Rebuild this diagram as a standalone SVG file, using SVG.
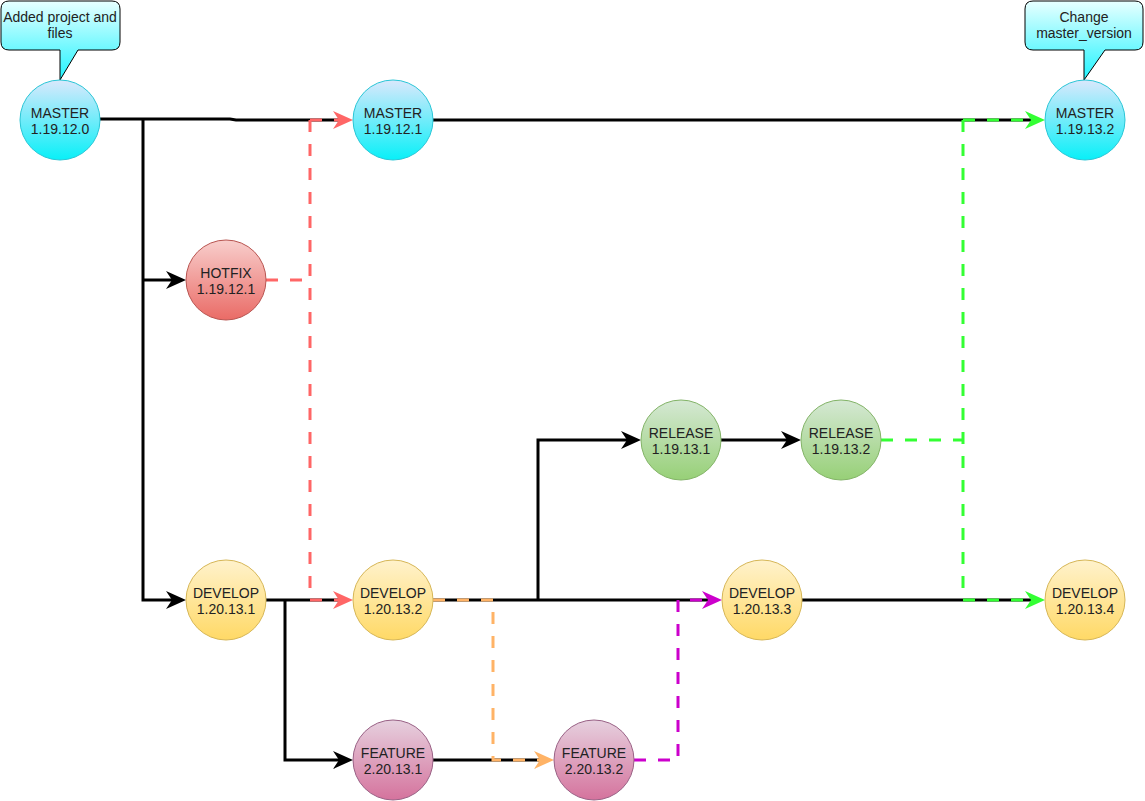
<svg xmlns="http://www.w3.org/2000/svg" width="1145" height="801" viewBox="0 0 1145 801">
<style>
text{font-family:"Liberation Sans",Arial,sans-serif;font-size:14px;fill:#222;text-anchor:middle}
.ln{fill:none;stroke-width:3}
.blk{stroke:#000}
.red{stroke:#ff6666;stroke-dasharray:12 12}
.grn{stroke:#33ff33;stroke-dasharray:12 12}
.org{stroke:#ffb366;stroke-dasharray:12 12}
.pur{stroke:#cc00cc;stroke-dasharray:12 12}
.call{stroke:#000;stroke-width:1;fill:url(#gCall)}
</style>
<defs>
<linearGradient id="gCall" x1="0" y1="0" x2="0" y2="1"><stop offset="0" stop-color="#e8ffff"/><stop offset="1" stop-color="#20f4ff"/></linearGradient>
<linearGradient id="gMaster" x1="0" y1="0" x2="0" y2="1"><stop offset="0" stop-color="#dae8fc"/><stop offset="1" stop-color="#08f0f8"/></linearGradient>
<linearGradient id="gHot" x1="0" y1="0" x2="0" y2="1"><stop offset="0" stop-color="#f8cecc"/><stop offset="1" stop-color="#ea6b66"/></linearGradient>
<linearGradient id="gRel" x1="0" y1="0" x2="0" y2="1"><stop offset="0" stop-color="#d5e8d4"/><stop offset="1" stop-color="#97d077"/></linearGradient>
<linearGradient id="gDev" x1="0" y1="0" x2="0" y2="1"><stop offset="0" stop-color="#fff2cc"/><stop offset="1" stop-color="#ffd966"/></linearGradient>
<linearGradient id="gFeat" x1="0" y1="0" x2="0" y2="1"><stop offset="0" stop-color="#e6d0de"/><stop offset="1" stop-color="#d5739d"/></linearGradient>
<marker id="aBlk" markerUnits="userSpaceOnUse" viewBox="0 0 20 18" refX="8" refY="9" markerWidth="20" markerHeight="18" orient="auto"><path d="M0,0 L20,9 L0,18 L6,9 Z" fill="#000"/></marker>
<marker id="aRed" markerUnits="userSpaceOnUse" viewBox="0 0 20 18" refX="8" refY="9" markerWidth="20" markerHeight="18" orient="auto"><path d="M0,0 L20,9 L0,18 L6,9 Z" fill="#ff6666"/></marker>
<marker id="aGrn" markerUnits="userSpaceOnUse" viewBox="0 0 20 18" refX="8" refY="9" markerWidth="20" markerHeight="18" orient="auto"><path d="M0,0 L20,9 L0,18 L6,9 Z" fill="#33ff33"/></marker>
<marker id="aOrg" markerUnits="userSpaceOnUse" viewBox="0 0 20 18" refX="8" refY="9" markerWidth="20" markerHeight="18" orient="auto"><path d="M0,0 L20,9 L0,18 L6,9 Z" fill="#ffb366"/></marker>
<marker id="aPur" markerUnits="userSpaceOnUse" viewBox="0 0 20 18" refX="8" refY="9" markerWidth="20" markerHeight="18" orient="auto"><path d="M0,0 L20,9 L0,18 L6,9 Z" fill="#cc00cc"/></marker>
</defs>

<g id="connectors">
  <!-- black solid -->
  <path class="ln blk" d="M100,119 L230,119 L236,120 L341,120"/>
  <path class="ln blk" d="M143,120 L143,600 L174,600" marker-end="url(#aBlk)"/>
  <path class="ln blk" d="M143,280 L174,280" marker-end="url(#aBlk)"/>
  <path class="ln blk" d="M433,120 L1033,120"/>
  <path class="ln blk" d="M266,600 L341,600"/>
  <path class="ln blk" d="M285,600 L285,760 L341,760" marker-end="url(#aBlk)"/>
  <path class="ln blk" d="M433,600 L710,600"/>
  <path class="ln blk" d="M538,600 L538,440 L629,440" marker-end="url(#aBlk)"/>
  <path class="ln blk" d="M721,440 L789,440" marker-end="url(#aBlk)"/>
  <path class="ln blk" d="M802,600 L1033,600"/>
  <path class="ln blk" d="M433,760 L542,760"/>
  <!-- hotfix merge -->
  <path class="ln red" d="M266,280 L310,280"/>
  <path class="ln red" d="M310,120 L310,600"/>
  <path class="ln red" d="M310,120 L341,120" marker-end="url(#aRed)"/>
  <path class="ln red" d="M310,600 L341,600" marker-end="url(#aRed)"/>
  <!-- release merge -->
  <path class="ln grn" d="M881,440 L963,440"/>
  <path class="ln grn" d="M963,120 L963,600"/>
  <path class="ln grn" d="M963,120 L1033,120" marker-end="url(#aGrn)"/>
  <path class="ln grn" d="M963,600 L1033,600" marker-end="url(#aGrn)"/>
  <!-- develop to feature -->
  <path class="ln org" d="M433,600 L493,600 L493,760 L542,760" marker-end="url(#aOrg)"/>
  <!-- feature to develop -->
  <path class="ln pur" d="M634,760 L678,760 L678,600 L710,600" marker-end="url(#aPur)"/>
</g>

<g id="callout-added">
  <path class="call" d="M9,1 L112,1 Q120,1 120,9 L120,42 Q120,50 112,50 L78,50 L60,80 L60,50 L9,50 Q1,50 1,42 L1,9 Q1,1 9,1 Z"/>
  <text x="60" y="22">Added project and</text>
  <text x="60" y="38">files</text>
</g>
<g id="callout-change">
  <path class="call" d="M1033,1 L1135,1 Q1143,1 1143,9 L1143,42 Q1143,50 1135,50 L1105,50 L1084,80 L1084,50 L1033,50 Q1025,50 1025,42 L1025,9 Q1025,1 1033,1 Z"/>
  <text x="1084" y="22">Change</text>
  <text x="1084" y="38">master_version</text>
</g>

<g id="master-1.19.12.0"><circle cx="60" cy="120" r="40" fill="url(#gMaster)" stroke="#29c6d6"/><text x="60" y="118">MASTER</text><text x="60" y="134">1.19.12.0</text></g>
<g id="master-1.19.12.1"><circle cx="393" cy="120" r="40" fill="url(#gMaster)" stroke="#29c6d6"/><text x="393" y="118">MASTER</text><text x="393" y="134">1.19.12.1</text></g>
<g id="master-1.19.13.2"><circle cx="1085" cy="120" r="40" fill="url(#gMaster)" stroke="#29c6d6"/><text x="1085" y="118">MASTER</text><text x="1085" y="134">1.19.13.2</text></g>
<g id="hotfix-1.19.12.1"><circle cx="226" cy="280" r="40" fill="url(#gHot)" stroke="#b85450"/><text x="226" y="278">HOTFIX</text><text x="226" y="294">1.19.12.1</text></g>
<g id="release-1.19.13.1"><circle cx="681" cy="440" r="40" fill="url(#gRel)" stroke="#82b366"/><text x="681" y="438">RELEASE</text><text x="681" y="454">1.19.13.1</text></g>
<g id="release-1.19.13.2"><circle cx="841" cy="440" r="40" fill="url(#gRel)" stroke="#82b366"/><text x="841" y="438">RELEASE</text><text x="841" y="454">1.19.13.2</text></g>
<g id="develop-1.20.13.1"><circle cx="226" cy="600" r="40" fill="url(#gDev)" stroke="#d6b656"/><text x="226" y="598">DEVELOP</text><text x="226" y="614">1.20.13.1</text></g>
<g id="develop-1.20.13.2"><circle cx="393" cy="600" r="40" fill="url(#gDev)" stroke="#d6b656"/><text x="393" y="598">DEVELOP</text><text x="393" y="614">1.20.13.2</text></g>
<g id="develop-1.20.13.3"><circle cx="762" cy="600" r="40" fill="url(#gDev)" stroke="#d6b656"/><text x="762" y="598">DEVELOP</text><text x="762" y="614">1.20.13.3</text></g>
<g id="develop-1.20.13.4"><circle cx="1085" cy="600" r="40" fill="url(#gDev)" stroke="#d6b656"/><text x="1085" y="598">DEVELOP</text><text x="1085" y="614">1.20.13.4</text></g>
<g id="feature-2.20.13.1"><circle cx="393" cy="760" r="40" fill="url(#gFeat)" stroke="#996185"/><text x="393" y="758">FEATURE</text><text x="393" y="774">2.20.13.1</text></g>
<g id="feature-2.20.13.2"><circle cx="594" cy="760" r="40" fill="url(#gFeat)" stroke="#996185"/><text x="594" y="758">FEATURE</text><text x="594" y="774">2.20.13.2</text></g>
</svg>
